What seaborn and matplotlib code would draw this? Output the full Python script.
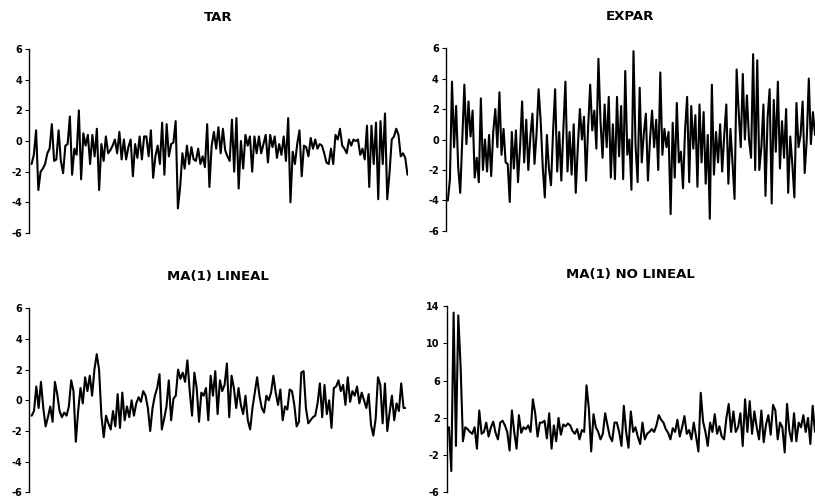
import numpy as np
import pandas as pd
import matplotlib
matplotlib.use("Agg")
import matplotlib.pyplot as plt
import seaborn as sns

# Simulated series for four nonlinear / linear models
tar = [-1.5, -0.9, 0.7, -3.2, -2.0, -1.8, -1.5, -0.8, -0.5, 1.1, -1.3, -1.2, 0.7, -1.3,
       -2.1, -0.3, -0.2, 1.6, -2.2, -0.5, -0.9, 2.0, -2.5, 0.5, -0.3, 0.4, -1.5, 0.4,
       -1.0, 0.8, -3.2, -0.2, -1.3, 0.3, -0.8, -0.6, -0.3, 0.1, -0.8, 0.6, -1.2, 0.1,
       -1.2, -0.4, 0.1, -2.3, -0.2, -1.1, 0.3, -1.2, 0.3, 0.3, -1.0, 0.7, -2.4, -1.0,
       -0.3, -1.5, 1.2, -2.2, 1.1, -1.0, -0.2, -0.1, 1.3, -4.4, -3.0, -0.8, -1.8, -0.3,
       -1.5, -0.4, -1.2, -1.3, -0.5, -1.5, -1.0, -1.7, 1.1, -3.0, -0.3, 0.6, -0.5, 0.9,
       -0.8, 0.8, -0.6, -1.0, -1.3, 1.4, -2.0, 1.5, -3.1, 0.0, -1.8, 0.4, -0.3, 0.3,
       -2.0, 0.3, -0.8, 0.3, -0.8, -0.2, 0.4, -1.4, 0.4, -0.4, 0.3, -1.1, -0.2, -0.9,
       0.3, -1.3, 1.5, -4.0, -0.7, -1.5, -0.2, 0.7, -2.3, -0.3, -0.4, -1.0, 0.2, -0.5,
       0.1, -0.5, -0.2, -0.3, -0.8, -1.4, -1.5, -0.5, -1.5, 0.4, 0.1, 0.8, -0.3, -0.5,
       -0.8, 0.1, -0.3, 0.1, 0.0, 0.1, -0.9, -0.5, -1.2, 1.0, -3.0, 1.0, -1.5, 1.2,
       -3.8, 1.3, -1.5, 1.8, -3.8, -2.1, 0.1, 0.3, 0.8, 0.4, -1.0, -0.8, -1.1, -2.2]

expar = [-4.0, -2.6, 3.8, -0.5, 2.2, -1.8, -3.5, 0.0, 3.6, -0.3, 2.5, 0.2, 1.9, -2.5,
         -1.2, -2.8, 2.7, -2.0, 0.0, -2.1, 0.3, -2.4, 0.5, 2.0, -0.5, 3.1, -1.0, 0.7,
         -1.5, -1.6, -4.1, 0.5, -1.9, 0.6, -2.8, -0.5, 2.5, -1.5, 1.3, -2.0, 0.2, 1.7,
         -1.6, 0.4, 3.3, 1.2, -1.8, -3.8, 0.3, -1.9, -3.0, 0.5, 3.3, -2.1, 0.5, -2.7,
         0.7, 3.8, -2.1, 0.5, -2.3, 1.0, -3.5, -0.5, 2.0, 0.0, 1.5, -2.7, 0.8, 3.6,
         0.6, 1.9, -0.6, 5.3, 1.2, -1.2, 2.3, -0.5, 2.8, -2.5, 1.0, -2.6, 2.8, -1.1,
         2.2, -2.6, 4.5, -1.0, 0.0, -3.3, 5.8, -0.4, -2.8, 3.4, -1.5, 0.4, 1.7, -2.7,
         0.0, 1.9, -0.5, 1.3, -2.0, 4.4, -1.0, 0.7, -0.5, 0.5, -4.9, 1.1, -2.5, 2.4,
         -1.5, -0.8, -3.2, 0.6, 2.8, -2.8, 2.2, -0.6, 1.6, -3.1, 2.3, -1.5, 1.8, -2.9,
         0.3, -5.2, 3.6, -2.3, 0.5, -1.5, 1.0, -2.1, 0.3, 2.3, -2.9, 0.7, -1.5, -3.9,
         4.6, 1.8, -0.5, 4.3, 0.0, 2.9, 0.0, -1.2, 5.6, -2.0, 5.2, -2.0, -0.5, 2.3,
         -3.7, 1.4, 3.3, -4.2, 2.6, -0.8, 3.8, -1.9, 1.2, -1.2, 2.0, -3.5, 0.2, -1.6,
         -3.8, 2.4, -0.5, 0.3, 2.5, -2.2, 0.0, 4.0, -0.3, 1.8, 0.3]

ma_lineal = [-1.0, -0.7, 0.9, -0.5, 1.2, -0.5, -1.7, -1.1, -0.4, -1.4, 1.2, 0.4, -0.7,
             -1.1, -0.8, -1.0, -0.4, 1.3, 0.6, -2.7, -0.7, 0.8, -0.2, 1.5, 0.6, 1.6,
             0.3, 2.0, 3.0, 2.0, -1.0, -2.4, -1.0, -1.5, -1.9, -0.7, -1.7, 0.4, -1.8,
             0.5, -1.3, -0.4, -1.1, 0.0, -1.0, -0.2, 0.2, -0.1, 0.6, 0.3, -0.5, -2.0,
             -0.5, 0.3, 0.8, 1.7, -1.9, -1.2, -0.4, 1.3, -1.3, 0.1, 0.3, 2.0, 1.4, 1.8,
             1.2, 2.6, 0.6, -1.0, 1.8, 0.8, -1.4, 0.5, 0.3, 0.8, -1.3, 1.6, 0.3, 1.9,
             -0.9, 1.3, 0.6, 1.0, 2.4, -1.1, 1.6, 0.8, -0.5, 0.8, -0.3, -0.9, 0.3, -1.3,
             -1.9, -0.5, 0.5, 1.5, 0.3, -0.5, -0.8, 0.3, 0.0, 0.5, 1.6, 0.5, -0.3, 0.7,
             -1.3, -0.4, -0.6, 0.7, 0.6, -0.3, -1.7, -1.4, 1.8, 1.9, -0.5, -1.5, -1.3,
             -1.1, -1.0, -0.2, 1.1, -1.1, 1.0, -0.9, 0.0, -1.8, 0.8, 0.9, 1.3, 0.6, 1.0,
             -0.3, 1.5, -0.1, 0.6, 0.3, 0.9, -0.2, 0.5, 0.0, -0.5, 0.4, -1.6, -2.3, -1.2,
             1.5, 1.0, -1.5, 1.1, -2.0, -0.8, 0.3, -1.3, -0.2, -0.7, 1.1, -0.5, -0.5]

ma_no_lineal = [1.0, -3.7, 13.3, -1.0, 13.0, 7.5, -0.5, 1.0, 0.8, 0.5, 0.3, 1.0, -1.3, 2.8,
                0.3, 0.5, 1.5, 0.0, 1.0, 1.6, 0.4, -0.3, 1.5, 1.7, 1.2, 0.5, -1.5, 2.8,
                0.5, -1.3, 2.3, 0.4, 1.0, 0.8, 1.2, 0.5, 4.0, 2.5, 0.0, 1.5, 1.5, 1.7,
                -0.2, 2.5, -1.3, 1.2, -0.5, 2.0, 0.2, 1.3, 1.1, 1.4, 1.2, 0.6, 0.3, 0.8,
                -0.3, 0.7, 0.5, 5.5, 3.0, -1.6, 2.4, 1.0, 0.5, -0.3, 0.3, 2.5, 1.2, 0.0,
                -0.5, 1.5, 1.5, 0.5, -1.0, 3.3, 0.5, -1.2, 2.7, 0.5, 1.0, 0.0, -0.8, 1.5,
                -0.3, 0.3, 0.5, 0.8, 0.5, 1.2, 2.3, 1.8, 1.5, 0.8, 0.4, -0.3, 0.9, 0.5,
                1.8, 0.0, 1.0, 2.2, 0.3, 0.7, -0.3, 1.5, 0.0, -1.6, 4.7, 1.6, 0.5, -1.0,
                1.5, 0.5, 2.4, 0.3, 1.1, 0.0, -0.3, 2.0, 3.5, 0.5, 2.7, 0.5, 1.0, 2.5,
                -1.0, 4.0, 0.5, 3.8, 0.3, 2.7, 1.0, -0.3, 2.8, -0.6, 1.3, 2.3, 0.2, 3.4,
                2.8, -0.3, 1.5, 1.0, -1.7, 3.5, 0.6, -0.5, 2.5, -0.5, 1.5, 1.0, 2.3, 0.5,
                2.0, -0.8, 3.3, 0.5]

titles = ["TAR", "EXPAR", "MA(1) LINEAL", "MA(1) NO LINEAL"]
series = [tar, expar, ma_lineal, ma_no_lineal]
yticks = [[-6, -4, -2, 0, 2, 4, 6], [-6, -4, -2, 0, 2, 4, 6],
          [-6, -4, -2, 0, 2, 4, 6], [-6, -2, 2, 6, 10, 14]]

sns.set_theme(style="white")
plt.rcParams["font.family"] = ["DejaVu Sans"]
plt.rcParams["text.color"] = "black"
plt.rcParams["axes.labelcolor"] = "black"
plt.rcParams["ytick.color"] = "black"

fig = plt.figure(figsize=(8.15, 5.01), dpi=100)
# [left, bottom, width, height] in figure fractions
boxes = [[0.036, 0.535, 0.464, 0.367],
         [0.547, 0.539, 0.453, 0.365],
         [0.036, 0.017, 0.462, 0.368],
         [0.548, 0.017, 0.452, 0.372]]

for box, title, vals, ticks in zip(boxes, titles, series, yticks):
    ax = fig.add_axes(box)
    df = pd.DataFrame({"t": np.arange(len(vals)), "valor": vals})
    sns.lineplot(data=df, x="t", y="valor", ax=ax, color="black", linewidth=1.5)
    ax.set_xlim(-1, len(vals) - 1)
    ax.set_ylim(ticks[0], ticks[-1])
    ax.set_yticks(ticks)
    ax.set_yticklabels([str(v) for v in ticks], fontsize=7, fontweight="bold",
                       color="black")
    ax.set_xticks([])
    ax.set_xlabel("")
    ax.set_ylabel("")
    for side in ["top", "right", "bottom"]:
        ax.spines[side].set_visible(False)
    ax.spines["left"].set_color("black")
    ax.spines["left"].set_linewidth(1.0)
    ax.tick_params(axis="y", left=True, length=3, width=0.8, color="black", pad=2)
    ax.set_title(title, fontsize=9.5, fontweight="bold", pad=20, color="black")

fig.savefig("out.png", dpi=100)
